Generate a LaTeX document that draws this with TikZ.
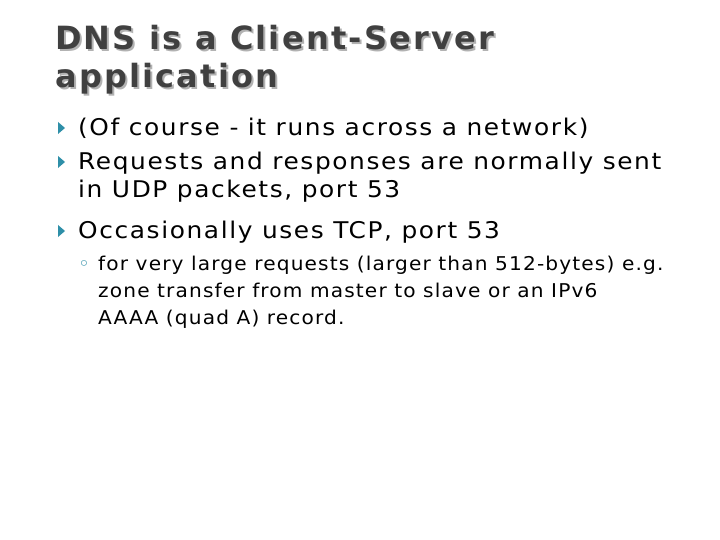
\documentclass[tikz,border=0pt]{standalone}
\usepackage{fontspec}
\setmainfont{DejaVu Sans}
\newfontfamily\ttlfont[LetterSpace=7]{DejaVu Sans}
\newfontfamily\bodyfont[LetterSpace=7,FakeStretch=1.08]{DejaVu Sans}
\newfontfamily\subfont[LetterSpace=6,FakeStretch=1.06]{DejaVu Sans}
\definecolor{ttl}{HTML}{404040}
\definecolor{bul}{HTML}{2E8FA8}
\begin{document}
\begin{tikzpicture}[x=1pt,y=-1pt,
  ttlstyle/.style={anchor=base west,inner sep=0pt,font=\ttlfont\bfseries\fontsize{32}{32}\selectfont,text=ttl},
  shad/.style={anchor=base west,inner sep=0pt,font=\ttlfont\bfseries\fontsize{32}{32}\selectfont,text=black!30},
  l1/.style={anchor=base west,inner sep=0pt,font=\bodyfont\fontsize{23}{23}\selectfont},
  l2/.style={anchor=base west,inner sep=0pt,font=\subfont\fontsize{19}{19}\selectfont}]
\useasboundingbox[fill=white] (0,0) rectangle (720,540);
\node[shad] (s1) at (57,52) {DNS is a Client-Server};
\node[shad] (s2) at (57,90) {application};
\node[ttlstyle] (t1) at (55,50) {DNS is a Client-Server};
\node[ttlstyle] (t2) at (55,88) {application};
\foreach \y in {128,162,231} \fill[bul] (58,\y-6) -- (65,\y) -- (58,\y+6) -- cycle;
\node[l1] (b1) at (78,136) {(Of course - it runs across a network)};
\node[l1] (b2) at (78,170) {Requests and responses are normally sent};
\node[l1] (b2b) at (78,197) {in UDP packets, port 53};
\node[l1] (b3) at (78,239) {Occasionally uses TCP, port 53};
\node[l2,text=bul] (c) at (78,270) {◦};
\node[l2] (d1) at (98,270) {for very large requests (larger than 512-bytes) e.g.};
\node[l2] (d2) at (98,297) {zone transfer from master to slave or an IPv6};
\node[l2] (d3) at (98,324) {AAAA (quad A) record.};
\end{tikzpicture}
\end{document}
